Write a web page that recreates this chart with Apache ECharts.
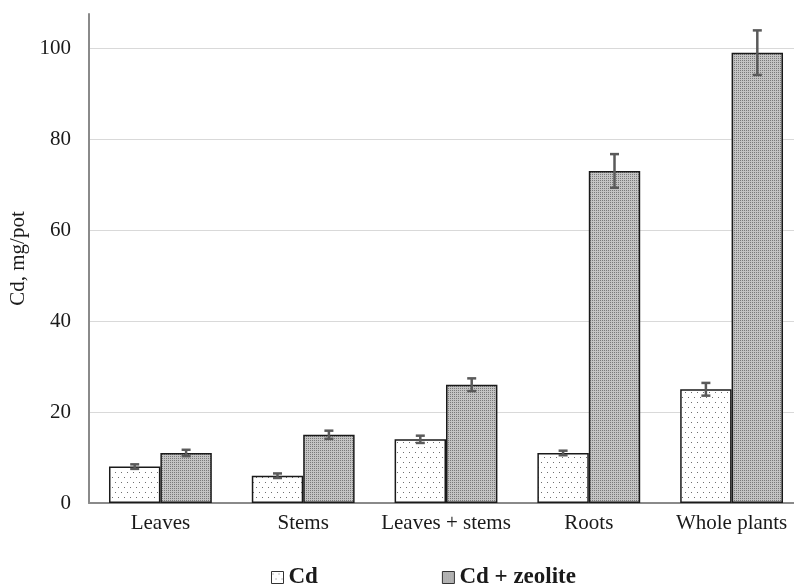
<!DOCTYPE html>
<html>
<head>
<meta charset="utf-8">
<script src="https://cdn.jsdelivr.net/npm/echarts@6/dist/echarts.min.js"></script>
<style>html,body{margin:0;padding:0;background:#fff}#c{width:794px;height:584px}</style>
</head>
<body>
<div id="c"></div>
<script>
var categories = ['Leaves', 'Stems', 'Leaves + stems', 'Roots', 'Whole plants'];
var cdValues = [8, 6, 14, 11, 25];
var cdErrors = [0.5, 0.5, 0.8, 0.5, 1.4];
var zeoValues = [11, 15, 26, 73, 99];
var zeoErrors = [0.7, 0.9, 1.4, 3.7, 4.9];
var yTicks = [0, 20, 40, 60, 80, 100];

function makePattern(w, h, bg, dots, dotColor) {
  var c = document.createElement('canvas');
  c.width = w; c.height = h;
  var ctx = c.getContext('2d');
  ctx.fillStyle = bg; ctx.fillRect(0, 0, w, h);
  ctx.fillStyle = dotColor;
  dots.forEach(function (d) { ctx.fillRect(d[0], d[1], 1, 1); });
  return c;
}
var cdPat = makePattern(6, 10, '#ffffff', [[1, 2], [4, 7]], '#6e6e6e');
var zeoPat = makePattern(2, 2, '#c4c4c4', [[0, 0]], '#7a7a7a');

var FONT = '"Liberation Serif", "Times New Roman", serif';
var BAR_FRAC = 0.36;

function errorSeries(values, errors, sign) {
  var data = values.map(function (v, i) { return [i, v - errors[i], v + errors[i]]; });
  return {
    type: 'custom',
    z: 10,
    silent: true,
    data: data,
    renderItem: function (params, api) {
      var idx = api.value(0);
      var lo = api.coord([idx, api.value(1)]);
      var hi = api.coord([idx, api.value(2)]);
      var band = api.size([1, 0])[0];
      var x = lo[0] + sign * band * BAR_FRAC / 2;
      var cap = 4.5;
      var st = { stroke: '#5a5a5a', lineWidth: 2.5 };
      return {
        type: 'group',
        children: [
          { type: 'line', shape: { x1: x, y1: lo[1], x2: x, y2: hi[1] }, style: st },
          { type: 'line', shape: { x1: x - cap, y1: lo[1], x2: x + cap, y2: lo[1] }, style: st },
          { type: 'line', shape: { x1: x - cap, y1: hi[1], x2: x + cap, y2: hi[1] }, style: st }
        ]
      };
    }
  };
}

var chart = echarts.init(document.getElementById('c'), null, { renderer: 'canvas' });
chart.setOption({
  animation: false,
  backgroundColor: '#ffffff',
  textStyle: { fontFamily: FONT },
  grid: { left: 89, top: 14, width: 714, height: 489, containLabel: false, outerBoundsMode: 'none' },
  legend: {
    data: ['Cd', 'Cd + zeolite'],
    left: 266,
    top: 561,
    icon: 'rect',
    itemWidth: 12,
    itemHeight: 12,
    itemGap: 124,
    itemStyle: { borderColor: '#333', borderWidth: 1 },
    textStyle: { fontFamily: FONT, fontSize: 23, fontWeight: 'bold', color: '#1a1a1a' }
  },
  xAxis: {
    type: 'category',
    data: categories,
    boundaryGap: true,
    axisLine: { lineStyle: { color: '#8a8a8a', width: 2 } },
    axisTick: { show: false },
    axisLabel: { interval: 0, fontFamily: FONT, fontSize: 21, color: '#1a1a1a', margin: 10 }
  },
  yAxis: {
    type: 'value',
    min: 0,
    max: 107.5,
    interval: 20,
    name: 'Cd, mg/pot',
    nameLocation: 'middle',
    nameGap: 50,
    nameRotate: 90,
    nameTextStyle: { fontFamily: FONT, fontSize: 21, color: '#1a1a1a', padding: [0, 0, 10, 0] },
    axisLine: { show: true, lineStyle: { color: '#8a8a8a', width: 2 } },
    axisTick: { show: false },
    axisLabel: {
      fontFamily: FONT, fontSize: 21, color: '#1a1a1a', margin: 18,
      showMaxLabel: false,
      formatter: function (v) { return yTicks.indexOf(v) >= 0 ? String(v) : ''; }
    },
    splitLine: { show: true, showMaxLine: false, lineStyle: { color: '#d9d9d9', width: 1 } }
  },
  series: [
    {
      name: 'Cd',
      type: 'bar',
      data: cdValues,
      barWidth: '36%',
      barGap: '0%',
      itemStyle: { color: { image: cdPat, repeat: 'repeat' }, borderColor: '#1a1a1a', borderWidth: 1.5 }
    },
    {
      name: 'Cd + zeolite',
      type: 'bar',
      data: zeoValues,
      barWidth: '36%',
      barGap: '0%',
      itemStyle: { color: { image: zeoPat, repeat: 'repeat' }, borderColor: '#1a1a1a', borderWidth: 1.5 }
    },
    errorSeries(cdValues, cdErrors, -1),
    errorSeries(zeoValues, zeoErrors, 1)
  ]
});
</script>
</body>
</html>
